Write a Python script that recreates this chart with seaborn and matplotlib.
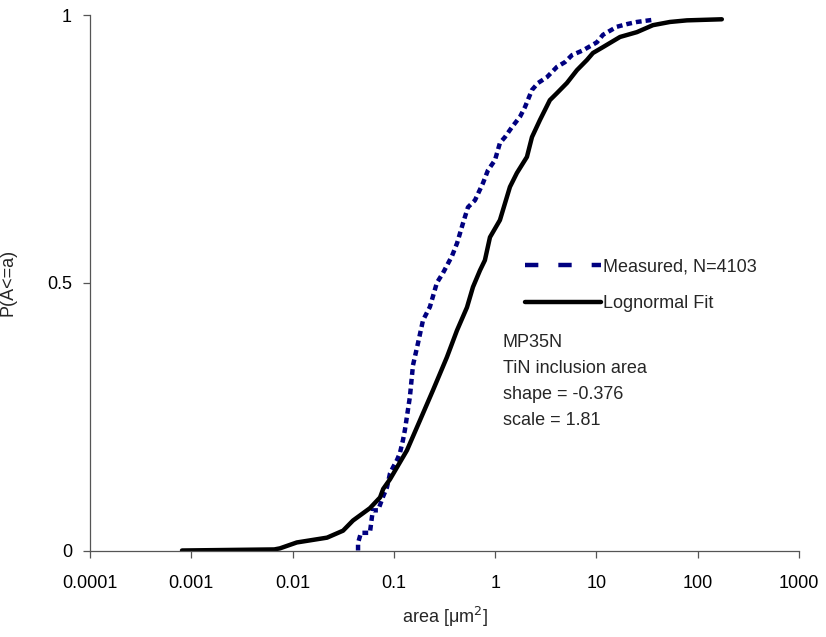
import seaborn as sns
import matplotlib.pyplot as plt
from matplotlib.lines import Line2D

measured_area = [0.0443, 0.0443, 0.0473, 0.058, 0.0608, 0.0622, 0.0697, 0.073, 0.078, 0.0855,
                 0.0916, 0.098, 0.1074, 0.1148, 0.123, 0.1288, 0.144, 0.1545, 0.173, 0.194,
                 0.227, 0.266, 0.305, 0.375, 0.421, 0.481, 0.539, 0.632, 0.758, 0.849,
                 0.996, 1.115, 1.25, 1.47, 1.76, 1.97, 2.31, 2.65, 3.25, 4.07,
                 4.89, 5.73, 7.36, 10.1, 11.6, 15.9, 20.0, 25.1, 36.1]
measured_p = [0.0, 0.014, 0.033, 0.033, 0.063, 0.075, 0.075, 0.085, 0.100, 0.118,
              0.144, 0.155, 0.169, 0.182, 0.206, 0.226, 0.287, 0.346, 0.387, 0.430,
              0.455, 0.500, 0.518, 0.550, 0.574, 0.611, 0.641, 0.654, 0.686, 0.710,
              0.729, 0.761, 0.772, 0.791, 0.810, 0.828, 0.860, 0.873, 0.884, 0.903,
              0.912, 0.925, 0.934, 0.949, 0.963, 0.978, 0.983, 0.987, 0.991]

# lognormal fit curve
fit_area = [0.00081, 0.0066, 0.0075, 0.011, 0.0219, 0.0315, 0.0395, 0.058, 0.073, 0.0785,
            0.0916, 0.1346, 0.181, 0.243, 0.334, 0.420, 0.527, 0.604, 0.708, 0.792,
            0.889, 1.115, 1.40, 1.64, 2.06, 2.31, 2.77, 3.47, 4.07, 5.11,
            6.42, 8.06, 9.23, 11.6, 17.1, 25.1, 36.1, 53.2, 78.3, 173]
fit_p = [0.0, 0.002, 0.004, 0.015, 0.024, 0.037, 0.056, 0.079, 0.099, 0.115,
         0.133, 0.187, 0.243, 0.299, 0.361, 0.411, 0.454, 0.492, 0.523, 0.542,
         0.585, 0.617, 0.679, 0.705, 0.735, 0.772, 0.804, 0.841, 0.854, 0.873,
         0.897, 0.916, 0.929, 0.940, 0.959, 0.968, 0.981, 0.987, 0.990, 0.992]

x_ticks = [0.0001, 0.001, 0.01, 0.1, 1, 10, 100, 1000]
x_labels = ['0.0001', '0.001', '0.01', '0.1', '1', '10', '100', '1000']
y_ticks = [0, 0.5, 1]
y_labels = ['0', '0.5', '1']

sns.set_style('ticks')
plt.rcParams['font.family'] = ['Liberation Sans', 'DejaVu Sans']
fs = 13

fig = plt.figure(figsize=(8.26, 6.37), dpi=100)
ax = fig.add_axes([90 / 826, 1 - 550.5 / 637, 709 / 826, 535.5 / 637])

navy = '#000080'
sns.lineplot(x=measured_area, y=measured_p, ax=ax, color=navy, lw=3.2,
             linestyle=(0, (1.3, 0.9)), sort=False, estimator=None)
sns.lineplot(x=fit_area, y=fit_p, ax=ax, color='black', lw=3.2,
             sort=False, estimator=None)

ax.set_xscale('log')
ax.set_xlim(0.0001, 1000)
ax.set_ylim(0, 1)
ax.set_xticks(x_ticks)
ax.set_xticklabels(x_labels)
ax.minorticks_off()
ax.set_yticks(y_ticks)
ax.set_yticklabels(y_labels)

for s in ['top', 'right']:
    ax.spines[s].set_visible(False)
for s in ['left', 'bottom']:
    ax.spines[s].set_color('#555555')
    ax.spines[s].set_linewidth(0.9)
ax.tick_params(axis='both', colors='#555555', labelcolor='black', length=5,
               width=0.9, labelsize=fs)
ax.tick_params(axis='x', pad=13)
ax.tick_params(axis='y', pad=8)

ax.set_xlabel('area [μm$^2$]', fontsize=fs, labelpad=9)
ax.set_ylabel('P(A<=a)', fontsize=fs, labelpad=22)

handles = [Line2D([], [], color=navy, lw=3.2, linestyle=(0, (3, 4.5))),
           Line2D([], [], color='black', lw=3.2)]
ax.legend(handles, ['Measured, N=4103', 'Lognormal Fit'], frameon=False,
          loc='upper left', bbox_to_anchor=(525 / 826, 1 - 258 / 637),
          bbox_transform=fig.transFigure, borderpad=0, borderaxespad=0,
          handlelength=4.2, handletextpad=0.1, labelspacing=1.1, fontsize=fs)

ax.text((503 - 90) / 709, (550.5 - 334) / 535.5,
        'MP35N\nTiN inclusion area\nshape = -0.376\nscale = 1.81',
        transform=ax.transAxes, ha='left', va='top', fontsize=fs, linespacing=1.68)

fig.savefig('out.png', dpi=100)
